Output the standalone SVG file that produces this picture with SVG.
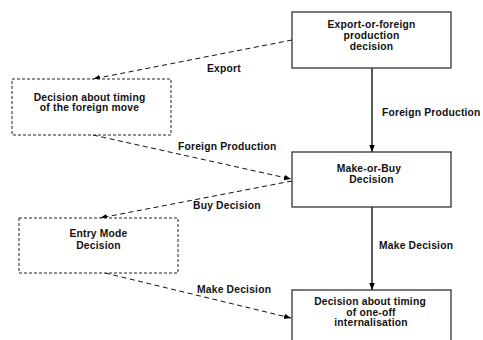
<svg xmlns="http://www.w3.org/2000/svg" width="483" height="340" viewBox="0 0 483 340">
<defs>
<marker id="ah" viewBox="0 0 10 10" refX="10" refY="5" markerWidth="7" markerHeight="7" markerUnits="userSpaceOnUse" orient="auto">
<path d="M0,1 L10,5 L0,9 Z" fill="#000"/>
</marker>
<style>
.box{fill:#fff;stroke:#333;stroke-width:1.3}
.dbox{fill:#fff;stroke:#222;stroke-width:1;stroke-dasharray:3 2}
.t{font-family:"Liberation Sans",Arial,sans-serif;font-size:10.3px;letter-spacing:0.2px;font-weight:bold;fill:#111;text-anchor:middle}
.l{font-family:"Liberation Sans",Arial,sans-serif;font-size:10.3px;letter-spacing:0.2px;font-weight:bold;fill:#111}
.solid{stroke:#000;stroke-width:1.3;fill:none}
.dash{stroke:#111;stroke-width:1;fill:none;stroke-dasharray:5 3.5}
</style>
</defs>
<rect width="483" height="340" fill="#fff"/>
<g id="connectors">
<line class="dash" x1="292" y1="40" x2="93" y2="79" marker-end="url(#ah)"/>
<line class="dash" x1="93" y1="135" x2="291" y2="179" marker-end="url(#ah)"/>
<line class="dash" x1="292" y1="181" x2="100" y2="218" marker-end="url(#ah)"/>
<line class="dash" x1="105" y1="273" x2="291" y2="318" marker-end="url(#ah)"/>
<line class="solid" x1="372" y1="68" x2="372" y2="152" marker-end="url(#ah)"/>
<line class="solid" x1="372" y1="207" x2="372" y2="290" marker-end="url(#ah)"/>
<text class="l" x="207" y="72">Export</text>
<text class="l" x="178" y="150">Foreign Production</text>
<text class="l" x="382" y="115.5">Foreign Production</text>
<text class="l" x="193" y="209">Buy Decision</text>
<text class="l" x="379" y="249">Make Decision</text>
<text class="l" x="197" y="293">Make Decision</text>
</g>
<g id="export-or-foreign">
<rect class="box" x="292" y="12" width="159" height="56"/>
<text class="t" x="371.5" y="28">Export-or-foreign</text>
<text class="t" x="371.5" y="39">production</text>
<text class="t" x="371.5" y="49.5">decision</text>
</g>
<g id="timing-foreign-move">
<rect class="dbox" x="12" y="79" width="159" height="56"/>
<text class="t" x="89.5" y="100.5">Decision about timing</text>
<text class="t" x="89.5" y="111">of the foreign move</text>
</g>
<g id="make-or-buy">
<rect class="box" x="292" y="152" width="159" height="55"/>
<text class="t" x="369" y="172">Make-or-Buy</text>
<text class="t" x="371.5" y="183">Decision</text>
</g>
<g id="entry-mode">
<rect class="dbox" x="19" y="218" width="159" height="55"/>
<text class="t" x="98.5" y="237">Entry Mode</text>
<text class="t" x="98.5" y="249">Decision</text>
</g>
<g id="timing-internalisation">
<rect class="box" x="292" y="290" width="159" height="60"/>
<text class="t" x="370" y="305">Decision about timing</text>
<text class="t" x="371" y="315.5">of one-off</text>
<text class="t" x="371" y="326">internalisation</text>
</g>
</svg>
